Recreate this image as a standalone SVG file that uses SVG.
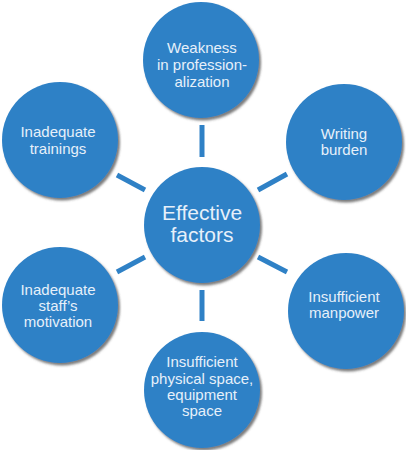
<svg xmlns="http://www.w3.org/2000/svg" width="406" height="450" viewBox="0 0 406 450">
<style>
.node circle{fill:#2F81C6;filter:url(#sh)}
.node text{font-family:"Liberation Sans",Arial,sans-serif;font-size:15px;fill:#E6F0FA;text-anchor:middle}
.node text.big{font-size:21px}
.conn line{stroke:#2F81C6;stroke-width:5}
</style>
<defs>
<filter id="sh" x="-20%" y="-20%" width="140%" height="140%">
<feDropShadow dx="2" dy="2.5" stdDeviation="1.2" flood-color="#444" flood-opacity="0.7"/>
</filter>
</defs>
<rect width="406" height="450" fill="#fff"/>
<g id="connectors" class="conn">
<line x1="202" y1="125" x2="202" y2="157"/>
<line x1="117" y1="175" x2="145" y2="190"/>
<line x1="258" y1="190" x2="287" y2="174"/>
<line x1="117" y1="272" x2="145" y2="257"/>
<line x1="258" y1="257" x2="287" y2="272"/>
<line x1="202" y1="290" x2="202" y2="321"/>
</g>
<g id="center" class="node">
<circle cx="202" cy="225" r="58"/>
<text class="big" x="202" y="220">Effective</text>
<text class="big" x="202" y="242">factors</text>
</g>
<g id="weakness" class="node">
<circle cx="201" cy="60" r="58"/>
<text x="202" y="53">Weakness</text>
<text x="202" y="70">in profession-</text>
<text x="202" y="87">alization</text>
</g>
<g id="writing" class="node">
<circle cx="344" cy="142" r="58"/>
<text x="344" y="139">Writing</text>
<text x="344" y="155">burden</text>
</g>
<g id="manpower" class="node">
<circle cx="346" cy="311" r="58"/>
<text x="344" y="302">Insufficient</text>
<text x="344" y="318">manpower</text>
</g>
<g id="space" class="node">
<circle cx="202" cy="390" r="58"/>
<text x="202" y="367">Insufficient</text>
<text x="202" y="384">physical space,</text>
<text x="202" y="400">equipment</text>
<text x="202" y="416">space</text>
</g>
<g id="motivation" class="node">
<circle cx="60" cy="305" r="58"/>
<text x="58" y="295">Inadequate</text>
<text x="58" y="311">staff’s</text>
<text x="58" y="327">motivation</text>
</g>
<g id="trainings" class="node">
<circle cx="60" cy="140" r="58"/>
<text x="58" y="137">Inadequate</text>
<text x="58" y="154">trainings</text>
</g>
</svg>
